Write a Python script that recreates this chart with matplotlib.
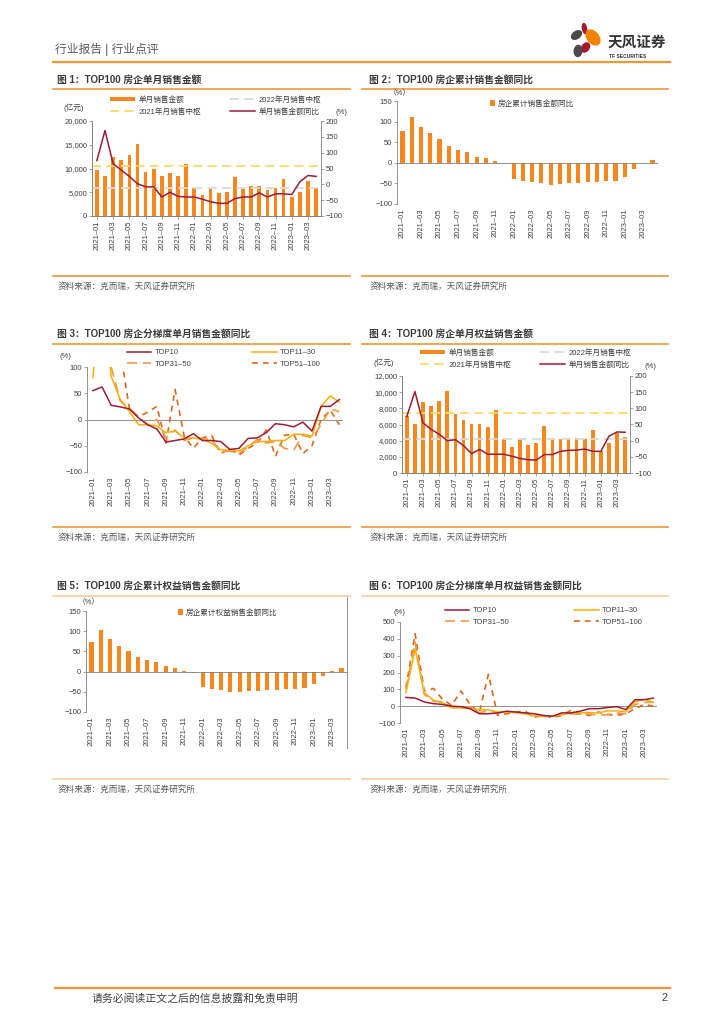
import numpy as np
import matplotlib.pyplot as plt
from matplotlib.patches import Ellipse
from matplotlib.lines import Line2D
from matplotlib.ticker import FuncFormatter

plt.rcParams['font.family'] = ['Liberation Sans', 'Noto Sans CJK SC']

W, H = 724, 1024

# ---------------- data ----------------
months = ['2021–01', '2021–02', '2021–03', '2021–04', '2021–05', '2021–06', '2021–07',
          '2021–08', '2021–09', '2021–10', '2021–11', '2021–12',
          '2022–01', '2022–02', '2022–03', '2022–04', '2022–05', '2022–06', '2022–07',
          '2022–08', '2022–09', '2022–10', '2022–11', '2022–12',
          '2023–01', '2023–02', '2023–03', '2023–04']

# fig 1: monthly sales (100m yuan) and yoy (%)
sales = [9700, 8400, 12400, 11700, 12800, 15100, 9200, 10000, 8400, 9000, 8400, 11000,
         5800, 4500, 5700, 4800, 5100, 8200, 5600, 6300, 6300, 5500, 6000, 7700,
         3900, 5000, 7300, 6000]
sales_yoy = [75, 170, 65, 45, 25, 2, -8, -8, -40, -25, -38, -40,
             -40, -47, -55, -60, -60, -45, -40, -40, -27, -40, -30, -30,
             -32, 8, 28, 25]
sales_med21 = 10550
sales_med22 = 6000

# fig 2: cumulative sales yoy (%)
cum_yoy = [77, 110, 87, 72, 58, 40, 32, 26, 15, 11, 5, -1,
           -40, -43, -47, -50, -53, -51, -50, -48, -46, -46, -44, -43,
           -34, -14, -1, 6]

# fig 3: monthly sales yoy by tier (%)
tier_top10 = [55, 62, 27, 24, 20, 3, -10, -18, -43, -40, -37, -27,
              -40, -40, -42, -57, -55, -36, -35, -25, -8, -10, -14, -5,
              -22, 25, 25, 38]
tier_11_30 = [80, 260, 82, 38, 15, -10, -10, -12, -25, -22, -35, -35,
              -38, -45, -58, -58, -60, -50, -42, -42, -40, -40, -28, -28,
              -32, 25, 45, 33]
tier_31_50 = [100, 280, 100, 35, 22, 5, -10, 0, -35, -20, -40, -35,
              -36, -38, -62, -60, -65, -52, -38, -45, -42, -55, -58, -30,
              -35, -10, 20, 15]
tier_51_100 = [160, 400, 150, 130, 20, 5, 14, 25, -45, 57, -32, -55,
               -35, -30, -65, -55, -68, -55, -45, -20, -70, -30, -28, -65,
               -50, 0, 18, -10]

# fig 4: monthly equity sales and yoy
eq_sales = [7000, 6050, 8750, 8300, 8900, 10150, 7300, 6550, 6050, 6100, 5700, 7800,
            4150, 3200, 4050, 3500, 3650, 5850, 4200, 4200, 4300, 4300, 4200, 5350,
            2700, 3650, 5000, 4400]
eq_yoy = [75, 152, 55, 35, 20, 0, 3, -15, -40, -27, -42, -42,
          -42, -48, -55, -59, -60, -43, -43, -33, -30, -29, -26, -33,
          -33, 14, 27, 26]
eq_med21 = 7400
eq_med22 = 4250

# fig 5: cumulative equity sales yoy (%)
eq_cum_yoy = [73, 103, 81, 63, 51, 36, 29, 23, 14, 8, 2, -3,
              -39, -42, -46, -50, -50, -49, -47, -46, -45, -43, -42, -41,
              -31, -11, 2, 8]

# fig 6: monthly equity sales yoy by tier (%)
eq_top10 = [52, 48, 25, 15, 10, 0, -3, -15, -45, -45, -40, -30,
            -35, -40, -45, -55, -60, -40, -40, -30, -15, -15, -8, -3,
            -20, 38, 38, 48]
eq_11_30 = [80, 340, 80, 35, 20, -10, -10, -15, -20, -22, -35, -35,
            -38, -45, -58, -58, -60, -50, -42, -40, -38, -40, -28, -28,
            -32, 25, 42, 22]
eq_31_50 = [100, 380, 70, 30, 25, -5, -10, -5, -40, -25, -40, -35,
            -38, -42, -62, -60, -62, -50, -45, -48, -45, -55, -50, -40,
            -45, 10, 22, 25]
eq_51_100 = [110, 430, 90, 105, 40, 5, 90, 10, -40, 190, -55, -45,
             -35, -30, -65, -55, -68, -55, -25, -45, -55, -35, -50, -55,
             -45, -15, 10, 0]

# ---------------- style ----------------
ORANGE = '#F7861C'
DRED = '#9E1B32'
YELLOW = '#FFD966'
LGRAY = '#D9D9D9'
C11 = '#FFAE00'
C31 = '#F79646'
C51 = '#E0661A'
AX = '#808080'
TXT = '#404040'
LINE_OR = '#F29633'
LINE_PEACH = '#F9CBA0'
FS = 5.5

fig = plt.figure(figsize=(W / 100, H / 100), dpi=100)


def rect(l, t, r, b):
    return [l / W, 1 - b / H, (r - l) / W, (b - t) / H]


def hline(y, x0, x1, color, lw=1.2):
    fig.add_artist(Line2D([x0 / W, x1 / W], [1 - y / H, 1 - y / H],
                          color=color, lw=lw, transform=fig.transFigure))


def ftext(x, y, s, **kw):
    kw.setdefault('fontsize', FS)
    kw.setdefault('color', TXT)
    kw.setdefault('va', 'center')
    fig.text(x / W, 1 - y / H, s, **kw)


def put_legend(ax, handles, labels, xy, **kw):
    opts = dict(loc='upper left', frameon=False, fontsize=FS, borderpad=0,
                borderaxespad=0, labelcolor=TXT, handletextpad=0.4, labelspacing=0.55)
    opts.update(kw)
    ax.legend(handles, labels, bbox_to_anchor=(xy[0] / W, 1 - xy[1] / H),
              bbox_transform=fig.transFigure, **opts)


def style_axis(ax, xs):
    for side in ['top', 'right']:
        ax.spines[side].set_visible(False)
    for sp in ax.spines.values():
        sp.set_color(AX)
        sp.set_linewidth(0.6)
    ax.tick_params(labelsize=FS, colors=TXT, length=2, width=0.5, pad=1.5)
    ax.tick_params(axis='both', color=AX)
    ax.set_xticks(xs[::2])
    ax.set_xticklabels(months[::2], rotation=90)


comma = FuncFormatter(lambda v, p: f'{int(v):,}')


def dual_chart(r, bars, yoy, ymax, ystep, med21, med22, leg_xy, unit_xy, pct_xy):
    ax = fig.add_axes(rect(*r))
    xs = np.arange(len(months))
    b = ax.bar(xs, bars, width=0.45, color=ORANGE, zorder=2)
    m21 = ax.axhline(med21, color=YELLOW, lw=1.3, ls=(0, (5, 3)), zorder=3)
    m22 = ax.axhline(med22, color=LGRAY, lw=1.3, ls=(0, (5, 3)), zorder=3)
    ax.set_xlim(-0.6, len(months) - 0.4)
    ax.set_ylim(0, ymax)
    ax.set_yticks(np.arange(0, ymax + 1, ystep))
    ax.yaxis.set_major_formatter(comma)
    style_axis(ax, xs)
    ax2 = ax.twinx()
    ln, = ax2.plot(xs, yoy, color=DRED, lw=1.1, zorder=4)
    ax2.set_ylim(-100, 200)
    ax2.set_yticks(np.arange(-100, 201, 50))
    ax2.spines['top'].set_visible(False)
    for sp in ax2.spines.values():
        sp.set_color(AX)
        sp.set_linewidth(0.6)
    ax2.tick_params(labelsize=FS, colors=TXT, length=2, width=0.5, pad=1.5)
    ax2.tick_params(axis='y', color=AX)
    # column-wise fill: bar, 2021 median | 2022 median, yoy line
    put_legend(ax2, [b, m21, m22, ln],
               ['单月销售金额', '2021年月销售中枢', '2022年月销售中枢', '单月销售金额同比'],
               leg_xy, ncol=2, handlelength=3.3, handleheight=0.5, columnspacing=3.8)
    ftext(unit_xy[0], unit_xy[1], '(亿元)', ha='center')
    ftext(pct_xy[0], pct_xy[1], '(%)', ha='center')
    return ax


def cum_chart(r, vals, label, leg_xy, pct_xy):
    ax = fig.add_axes(rect(*r))
    xs = np.arange(len(months))
    b = ax.bar(xs, vals, width=0.45, color=ORANGE, zorder=2)
    ax.axhline(0, color=AX, lw=0.6, zorder=3)
    ax.set_xlim(-0.6, len(months) - 0.4)
    ax.set_ylim(-100, 150)
    ax.set_yticks(np.arange(-100, 151, 50))
    style_axis(ax, xs)
    ax.spines['bottom'].set_visible(False)
    ax.tick_params(axis='x', length=0, pad=3)
    put_legend(ax, [b], [label], leg_xy, handlelength=0.7, handleheight=0.9,
               handletextpad=0.3)
    ftext(pct_xy[0], pct_xy[1], '（%）', ha='center')
    return ax


def tier_chart(r, series, ymin, ymax, ystep, leg_xy, pct_xy, colspace):
    ax = fig.add_axes(rect(*r))
    xs = np.arange(len(months))
    top10, t11, t31, t51 = series
    l10, = ax.plot(xs, top10, color=DRED, lw=1.1, zorder=5)
    l11, = ax.plot(xs, t11, color=C11, lw=1.1, zorder=4)
    l31, = ax.plot(xs, t31, color=C31, lw=1.2, ls=(0, (6, 3.5)), zorder=3)
    l51, = ax.plot(xs, t51, color=C51, lw=1.2, ls=(0, (3.5, 3)), zorder=2)
    ax.axhline(0, color=AX, lw=0.6, zorder=1)
    ax.set_xlim(-0.65, len(months) - 0.6)
    ax.set_ylim(ymin, ymax)
    ax.set_yticks(np.arange(ymin, ymax + 1, ystep))
    style_axis(ax, xs)
    ax.spines['bottom'].set_visible(False)
    ax.tick_params(axis='x', length=0, pad=3)
    put_legend(ax, [l10, l31, l11, l51], ['TOP10', 'TOP31–50', 'TOP11–30', 'TOP51–100'],
               leg_xy, ncol=2, handlelength=3.2, columnspacing=colspace)
    ftext(pct_xy[0], pct_xy[1], '(%)', ha='center')
    return ax


# ---------------- page frame ----------------
ftext(55, 50, '行业报告 | 行业点评', fontsize=8.5, color='#595959', ha='left')
hline(62, 53, 670, LINE_OR, lw=1.6)

logo = fig.add_axes(rect(566, 20, 606, 60))
logo.set_xlim(0, 40)
logo.set_ylim(40, 0)
logo.axis('off')
for (cx, cy, w, h, ang, c) in [(18.5, 8.5, 4, 10, -10, '#A6192E'),
                               (10.5, 15, 7, 11, 55, '#4A4A4A'),
                               (27, 17.5, 11, 17, -40, '#F08300'),
                               (19.5, 27.5, 7, 10, 35, '#A6192E'),
                               (12, 31, 7.5, 11, 5, '#4A4A4A')]:
    logo.add_patch(Ellipse((cx, cy), w, h, angle=ang, color=c))
ftext(608, 43, '天风证券', fontsize=10.5, color='#333333', ha='left', fontweight='bold')
ftext(609, 56, 'TF SECURITIES', fontsize=3.6, color='#333333', ha='left', fontweight='bold')

titles = [(57, 80, '图 1：TOP100 房企单月销售金额'),
          (369, 80, '图 2：TOP100 房企累计销售金额同比'),
          (57, 334, '图 3：TOP100 房企分梯度单月销售金额同比'),
          (369, 334, '图 4：TOP100 房企单月权益销售金额'),
          (57, 586, '图 5：TOP100 房企累计权益销售金额同比'),
          (369, 586, '图 6：TOP100 房企分梯度单月权益销售金额同比')]
for x, y, s in titles:
    ftext(x, y, s, fontsize=7, color='#3A3A3A', ha='left', fontweight='bold')

for y, c in [(89, LINE_OR), (344, LINE_OR), (596, LINE_PEACH)]:
    hline(y, 53, 350, c)
    hline(y, 362, 668, c)
for y, c in [(276, LINE_OR), (527, LINE_OR), (779, LINE_PEACH)]:
    hline(y, 53, 350, c)
    hline(y, 362, 668, c)
    ftext(58, y + 10, '资料来源：克而瑞，天风证券研究所', fontsize=6.2, color='#595959', ha='left')
    ftext(370, y + 10, '资料来源：克而瑞，天风证券研究所', fontsize=6.2, color='#595959', ha='left')

fig.add_artist(Line2D([347 / W, 347 / W], [1 - 597 / H, 1 - 748 / H],
                      color='#7F7F7F', lw=0.6, transform=fig.transFigure))

hline(988, 55, 670, LINE_OR, lw=1.6)
ftext(92, 998, '请务必阅读正文之后的信息披露和免责申明', fontsize=7.8, color='#404040', ha='left')
ftext(668, 998, '2', fontsize=7.8, color='#404040', ha='right')

# ---------------- charts ----------------
dual_chart((92, 121, 321, 216), sales, sales_yoy, 20000, 5000, sales_med21, sales_med22,
           leg_xy=(110, 96), unit_xy=(74, 108), pct_xy=(341, 113))
cum_chart((397, 101, 658, 204), cum_yoy, '房企累计销售金额同比',
          leg_xy=(490, 100), pct_xy=(400, 94))
tier_chart((87, 367, 343, 472), [tier_top10, tier_11_30, tier_31_50, tier_51_100],
           -100, 100, 50, leg_xy=(127, 349), pct_xy=(65, 356), colspace=8.0)
dual_chart((402, 376, 630, 473), eq_sales, eq_yoy, 12000, 2000, eq_med21, eq_med22,
           leg_xy=(420, 349), unit_xy=(384, 363), pct_xy=(650, 367))
cum_chart((86, 611, 347, 712), eq_cum_yoy, '房企累计权益销售金额同比',
          leg_xy=(178, 609), pct_xy=(89, 603))
tier_chart((400, 622, 657, 723), [eq_top10, eq_11_30, eq_31_50, eq_51_100],
           -100, 500, 100, leg_xy=(445, 607), pct_xy=(399, 613), colspace=8.5)

fig.savefig('out.png', dpi=100)
